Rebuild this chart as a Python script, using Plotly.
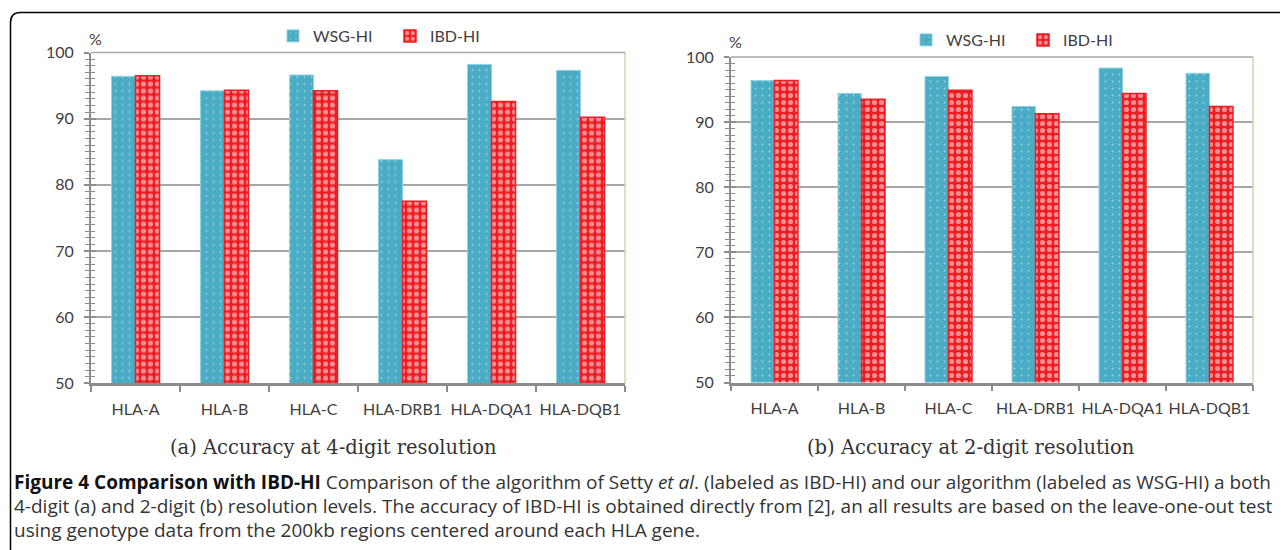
import plotly.graph_objects as go

categories = ["HLA-A", "HLA-B", "HLA-C", "HLA-DRB1", "HLA-DQA1", "HLA-DQB1"]
wsg_4digit = [96.4, 94.2, 96.6, 83.8, 98.2, 97.3]
ibd_4digit = [96.5, 94.3, 94.2, 77.5, 92.6, 90.2]
wsg_2digit = [96.4, 94.4, 97.0, 92.4, 98.3, 97.5]
ibd_2digit = [96.4, 93.5, 94.9, 91.3, 94.4, 92.4]
series_names = ["WSG-HI", "IBD-HI"]
y_ticks = [50, 60, 70, 80, 90, 100]
subcaptions = ["(a) Accuracy at 4-digit resolution", "(b) Accuracy at 2-digit resolution"]
caption_lines = [
    "<b style='color:#111'>Figure 4 Comparison with IBD-HI</b> Comparison of the algorithm of Setty <i>et al</i>. (labeled as IBD-HI) and our algorithm (labeled as WSG-HI) a both",
    "4-digit (a) and 2-digit (b) resolution levels. The accuracy of IBD-HI is obtained directly from [2], an all results are based on the leave-one-out test",
    "using genotype data from the 200kb regions centered around each HLA gene.",
]

W, H = 1288, 550
OFF = 8  # page body margin
TEAL = "#4BACC6"
RED = "#EE1D23"
AX = "#8C8C8C"
TXT = "#404040"
SANS = "Lato, Open Sans, sans-serif"
TICKFONT = dict(family=SANS, size=16, color=TXT)


def px_x(x):
    return (x - OFF) / W


def px_y(y):
    return 1 - (y - OFF) / H


fig = go.Figure()

panels = [
    dict(wsg=wsg_4digit, ibd=ibd_4digit, xa="x", ya="y", legend="legend",
         xdom=[px_x(91), px_x(625)], ydom=[px_y(383.3), px_y(52.5)]),
    dict(wsg=wsg_2digit, ibd=ibd_2digit, xa="x2", ya="y2", legend="legend2",
         xdom=[px_x(731), px_x(1253)], ydom=[px_y(382.5), px_y(57)]),
]

for p in panels:
    fig.add_trace(go.Bar(
        x=categories, y=p["wsg"], name=series_names[0], xaxis=p["xa"], yaxis=p["ya"],
        legend=p["legend"],
        marker=dict(color=TEAL, line=dict(color="#8ED3E4", width=1),
                    pattern=dict(shape=".", fgcolor="white", size=7, solidity=0.05)),
    ))
    fig.add_trace(go.Bar(
        x=categories, y=p["ibd"], name=series_names[1], xaxis=p["xa"], yaxis=p["ya"],
        legend=p["legend"],
        marker=dict(color=RED, line=dict(color=RED, width=1.5),
                    pattern=dict(shape=".", fgcolor="white", size=7, solidity=0.42)),
    ))

layout = dict(
    width=W, height=H, margin=dict(l=0, r=0, t=0, b=0, autoexpand=False),
    paper_bgcolor="white", plot_bgcolor="white",
    barmode="group", bargap=0.46, bargroupgap=0,
    showlegend=True,
    font=dict(family=SANS, color=TXT),
)

for i, p in enumerate(panels):
    sfx = "" if i == 0 else "2"
    ovl = str(3 + i)
    layout["xaxis" + sfx] = dict(
        domain=p["xdom"], anchor=p["ya"], type="category", automargin=False, tickangle=0,
        showline=True, linecolor=AX, linewidth=2.5,
        ticks="outside", tickson="boundaries", ticklen=6, tickcolor=AX, tickwidth=1.5,
        showgrid=False, tickfont=dict(family=SANS, size=16, color=TXT),
        ticklabelstandoff=10,
    )
    layout["yaxis" + sfx] = dict(
        domain=p["ydom"], anchor=p["xa"], range=[50, 100], tickvals=y_ticks, automargin=False,
        showline=True, linecolor=AX, linewidth=2,
        ticks="outside", ticklen=5, tickcolor=AX, tickwidth=1.5,
        minor=dict(dtick=1, ticks="outside", ticklen=4, tickcolor=AX, tickwidth=1, showgrid=False),
        showgrid=True, gridcolor="#A6A6A6", gridwidth=1.5,
        tickfont=TICKFONT, ticklabelstandoff=7, zeroline=False,
    )
    layout["yaxis" + ovl] = dict(
        overlaying=p["ya"], anchor=p["xa"], range=[50, 100], tickvals=y_ticks, automargin=False,
        side="left", showline=False, showticklabels=False, showgrid=False, zeroline=False,
        ticks="inside", ticklen=5, tickcolor=AX, tickwidth=1.5,
        minor=dict(dtick=1, ticks="inside", ticklen=4, tickcolor=AX, tickwidth=1, showgrid=False),
    )

legend_common = dict(
    orientation="h", xanchor="left", yanchor="middle",
    font=dict(family=SANS, size=16, color=TXT),
    bgcolor="rgba(0,0,0,0)", itemwidth=30, entrywidth=72, traceorder="normal",
)
layout["legend"] = dict(legend_common, x=px_x(273), y=px_y(36))
layout["legend2"] = dict(legend_common, x=px_x(906), y=px_y(40))

fig.update_layout(**layout)

# invisible anchors so overlay axes get drawn
for ovl, xa in (("y3", "x"), ("y4", "x2")):
    fig.add_trace(go.Scatter(x=[categories[0]], y=[50], xaxis=xa, yaxis=ovl,
                             mode="markers", marker=dict(opacity=0), showlegend=False,
                             hoverinfo="skip"))

# plot frame pieces (top gray, right tan)
for xa, ya in (("x", "y"), ("x2", "y2")):
    fig.add_shape(type="line", xref=xa + " domain", yref=ya + " domain",
                  x0=1, x1=1, y0=0, y1=1, line=dict(color="#D8D0B0", width=1.5))
    fig.add_shape(type="line", xref=xa + " domain", yref=ya + " domain",
                  x0=0, x1=1, y0=1, y1=1, line=dict(color="#A6A6A6", width=1.5))

# "%" labels
for (x, y) in ((95, 38), (735, 42)):
    fig.add_annotation(text="%", x=px_x(x), y=px_y(y), xref="paper", yref="paper",
                       xanchor="center", yanchor="middle", showarrow=False,
                       font=dict(family=SANS, size=16, color=TXT))

# sub-captions
for txt, (x, y) in zip(subcaptions, ((333, 447), (971, 447))):
    fig.add_annotation(text=txt, x=px_x(x), y=px_y(y), xref="paper", yref="paper",
                       xanchor="center", yanchor="middle", showarrow=False,
                       font=dict(family="DejaVu Serif, serif", size=19.5, color="#333"))

# figure caption
for txt, y in zip(caption_lines, (482, 506, 530)):
    fig.add_annotation(text=txt, x=px_x(12), y=px_y(y), xref="paper", yref="paper",
                       xanchor="left", yanchor="middle", showarrow=False,
                       font=dict(family="Open Sans, sans-serif", size=19, color="#333"))

# outer rounded frame (top-left corner)
r = 10
x0, yt = px_x(10.5), px_y(12.5)
fig.add_shape(type="path", xref="paper", yref="paper",
              path=(f"M {x0},{px_y(560)} L {x0},{px_y(12.5 + r)} Q {x0},{yt} {px_x(10.5 + r)},{yt} "
                    f"L {px_x(1280)},{yt} Q {px_x(1284)},{yt} {px_x(1285)},{px_y(15)}"),
              line=dict(color="black", width=1.5))

fig.write_html("out.html")
